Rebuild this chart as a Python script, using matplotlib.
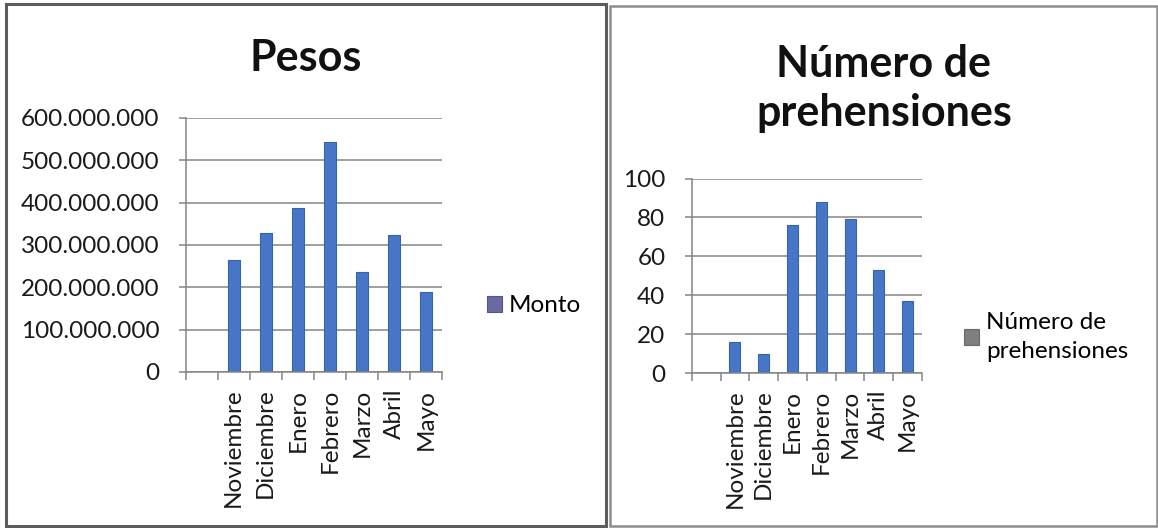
import matplotlib.pyplot as plt
import numpy as np
from matplotlib.patches import Rectangle
from matplotlib.ticker import FuncFormatter, FixedLocator

plt.rcParams['font.family'] = ['Lato', 'DejaVu Sans']

# Data (first category is left blank in the sheet)
meses = ['', 'Noviembre', 'Diciembre', 'Enero', 'Febrero', 'Marzo', 'Abril', 'Mayo']
monto = [np.nan, 264e6, 327.5e6, 388e6, 542e6, 236e6, 324e6, 188e6]
prehensiones = [np.nan, 16, 10, 76, 88, 79, 53, 37]

W, H = 1158, 528
fig = plt.figure(figsize=(W / 100, H / 100), dpi=100)

bar_color = '#4677c6'
edge_color = '#3a62a6'
grid_color = '#858585'
fs = 17.5


def px_rect(x0, y0, x1, y1):
    # pixel box (top-left origin) -> figure fraction [l, b, w, h]
    return [x0 / W, 1 - y1 / H, (x1 - x0) / W, (y1 - y0) / H]


def style_axes(ax, ymax, ystep, fmt):
    x = np.arange(len(meses))
    ax.set_xlim(-0.5, len(meses) - 0.5)
    ax.set_ylim(0, ymax)
    ax.set_yticks(np.arange(0, ymax + 1, ystep))
    ax.yaxis.set_major_formatter(FuncFormatter(fmt))
    ax.grid(axis='y', color=grid_color, linewidth=1.1)
    ax.set_axisbelow(True)
    for s in ['top', 'right']:
        ax.spines[s].set_visible(False)
    for s in ['left', 'bottom']:
        ax.spines[s].set_color(grid_color)
        ax.spines[s].set_linewidth(1.1)
    # tick marks between categories, labels at category centres
    ax.xaxis.set_major_locator(FixedLocator(np.arange(-0.5, len(meses), 1.0)))
    ax.xaxis.set_minor_locator(FixedLocator(x))
    ax.set_xticklabels([''] * (len(meses) + 1))
    ax.set_xticklabels(meses, minor=True, rotation=90, fontsize=fs, color='#1a1a1a')
    ax.tick_params(axis='x', which='major', length=6, color=grid_color, width=1.1)
    ax.tick_params(axis='x', which='minor', length=0, pad=12)
    ax.tick_params(axis='y', length=5, color=grid_color, width=1.1, pad=14,
                   labelsize=fs, labelcolor='#1a1a1a')


# Pesos
ax1 = fig.add_axes(px_rect(185.6, 117.8, 442, 372))
ax1.bar(np.arange(len(meses)), monto, width=0.38, color=bar_color,
        edgecolor=edge_color, linewidth=0.8, label='Monto')
style_axes(ax1, 600e6, 100e6, lambda v, p: f'{v:,.0f}'.replace(',', '.'))
leg1 = ax1.legend(loc='center left', bbox_to_anchor=(487 / W, 1 - 306 / H),
                  bbox_transform=fig.transFigure, frameon=False, fontsize=fs,
                  handlelength=0.6, handleheight=0.6, handletextpad=0.3,
                  borderaxespad=0, borderpad=0)
leg1.get_patches()[0].set_facecolor('#6a6aa0')
leg1.get_patches()[0].set_edgecolor('#55558a')
fig.text(306 / W, 1 - 58 / H, 'Pesos', ha='center', va='center',
         fontsize=31, fontweight='bold', color='#111111')

# Número de prehensiones
ax2 = fig.add_axes(px_rect(691.8, 178.5, 922, 373))
ax2.bar(np.arange(len(meses)), prehensiones, width=0.38, color=bar_color,
        edgecolor=edge_color, linewidth=0.8, label='Número de\nprehensiones')
style_axes(ax2, 100, 20, lambda v, p: f'{v:.0f}')
leg2 = ax2.legend(loc='center left', bbox_to_anchor=(964 / W, 1 - 337 / H),
                  bbox_transform=fig.transFigure, frameon=False, fontsize=fs,
                  handlelength=0.6, handleheight=0.6, handletextpad=0.3,
                  borderaxespad=0, borderpad=0, labelspacing=0)
leg2.get_texts()[0].set_linespacing(1.5)
leg2.get_patches()[0].set_facecolor('#7f7f7f')
leg2.get_patches()[0].set_edgecolor('#6a6a6a')
fig.text(884 / W, 1 - 64 / H, 'Número de', ha='center', va='center',
         fontsize=31, fontweight='bold', color='#111111')
fig.text(884 / W, 1 - 113 / H, 'prehensiones', ha='center', va='center',
         fontsize=31, fontweight='bold', color='#111111')

# panel frames
fig.patches.append(Rectangle((6 / W, 1 - 526 / H), 600 / W, 522 / H,
                             transform=fig.transFigure, fill=False,
                             edgecolor='#5c5c5c', linewidth=2.2))
fig.patches.append(Rectangle((610 / W, 1 - 526 / H), 547 / W, 520 / H,
                             transform=fig.transFigure, fill=False,
                             edgecolor='#8e8e8e', linewidth=1.8))

fig.savefig('out.png', dpi=100)
